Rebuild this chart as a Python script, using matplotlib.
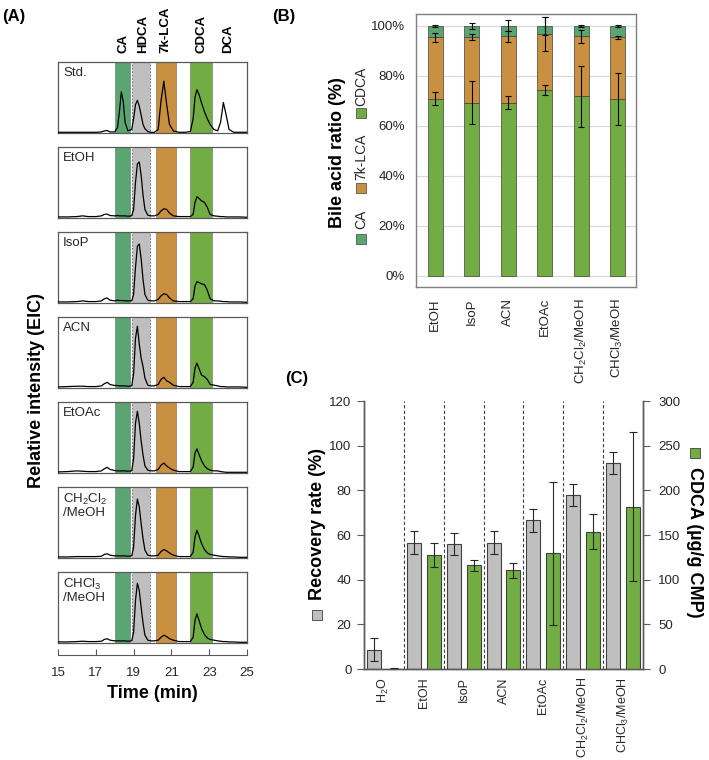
import matplotlib
matplotlib.use("Agg")
import matplotlib.pyplot as plt
from matplotlib.patches import Rectangle
import matplotlib.transforms as mtransforms

plt.rcParams['font.family'] = ['Liberation Sans', 'DejaVu Sans']
plt.rcParams['mathtext.fontset'] = 'custom'
plt.rcParams['mathtext.rm'] = 'Liberation Sans'
plt.rcParams['mathtext.it'] = 'Liberation Sans:italic'
plt.rcParams['mathtext.bf'] = 'Liberation Sans:bold'

# ---------------- data: panel A (chromatograms) ----------------
samples_A = ["Std.", "EtOH", "IsoP", "ACN", "EtOAc", "CH$_2$Cl$_2$\n/MeOH", "CHCl$_3$\n/MeOH"]
time_min = [15.0, 15.5, 16.0, 16.3, 16.6, 17.0, 17.3, 17.45, 17.6, 17.75, 18.0, 18.15, 18.25, 18.35,
            18.45, 18.55, 18.7, 18.9, 19.0, 19.1, 19.2, 19.3, 19.4, 19.5, 19.6, 19.75, 19.9, 20.1,
            20.3, 20.45, 20.6, 20.75, 20.9, 21.1, 21.4, 21.7, 22.0, 22.15, 22.25, 22.35, 22.45, 22.6,
            22.75, 22.9, 23.05, 23.25, 23.45, 23.6, 23.75, 23.9, 24.05, 24.3, 24.6, 25.0]
eic_std = [0.01, 0.01, 0.01, 0.01, 0.01, 0.01, 0.015, 0.03, 0.035, 0.015, 0.015, 0.08, 0.3, 0.58,
           0.45, 0.15, 0.03, 0.05, 0.2, 0.4, 0.46, 0.38, 0.25, 0.12, 0.06, 0.02, 0.01, 0.01,
           0.05, 0.45, 0.73, 0.4, 0.12, 0.03, 0.01, 0.01, 0.02, 0.2, 0.5, 0.61, 0.55, 0.42,
           0.3, 0.2, 0.12, 0.05, 0.03, 0.15, 0.43, 0.25, 0.05, 0.01, 0.01, 0.01]
eic_etoh = [0.015, 0.015, 0.02, 0.03, 0.02, 0.02, 0.03, 0.05, 0.055, 0.035, 0.03, 0.035, 0.03, 0.03,
            0.03, 0.03, 0.025, 0.03, 0.12, 0.5, 0.76, 0.79, 0.6, 0.32, 0.12, 0.04, 0.03, 0.03,
            0.05, 0.1, 0.13, 0.12, 0.07, 0.03, 0.02, 0.02, 0.02, 0.05, 0.22, 0.3, 0.28, 0.24,
            0.22, 0.15, 0.05, 0.03, 0.025, 0.02, 0.02, 0.015, 0.015, 0.015, 0.015, 0.01]
eic_isop = [0.015, 0.015, 0.02, 0.03, 0.02, 0.02, 0.03, 0.06, 0.07, 0.04, 0.03, 0.04, 0.035, 0.035,
            0.035, 0.03, 0.03, 0.03, 0.12, 0.5, 0.8, 0.83, 0.62, 0.33, 0.12, 0.04, 0.03, 0.03,
            0.05, 0.1, 0.13, 0.12, 0.07, 0.03, 0.02, 0.02, 0.02, 0.06, 0.24, 0.3, 0.29, 0.27,
            0.26, 0.18, 0.06, 0.03, 0.03, 0.025, 0.02, 0.02, 0.015, 0.015, 0.015, 0.01]
eic_acn = [0.015, 0.02, 0.025, 0.025, 0.02, 0.02, 0.03, 0.06, 0.08, 0.05, 0.035, 0.035, 0.03, 0.03,
           0.03, 0.03, 0.025, 0.03, 0.2, 0.7, 0.87, 0.62, 0.42, 0.3, 0.14, 0.04, 0.03, 0.03,
           0.05, 0.12, 0.15, 0.1, 0.08, 0.04, 0.02, 0.02, 0.02, 0.08, 0.28, 0.35, 0.28, 0.18,
           0.16, 0.12, 0.05, 0.04, 0.03, 0.02, 0.02, 0.015, 0.015, 0.015, 0.015, 0.01]
eic_etoac = [0.015, 0.02, 0.03, 0.025, 0.02, 0.02, 0.03, 0.06, 0.08, 0.05, 0.035, 0.03, 0.03, 0.03,
             0.03, 0.03, 0.025, 0.03, 0.2, 0.7, 0.87, 0.7, 0.45, 0.25, 0.1, 0.04, 0.03, 0.03,
             0.05, 0.11, 0.14, 0.1, 0.07, 0.04, 0.02, 0.02, 0.02, 0.08, 0.28, 0.34, 0.27, 0.17,
             0.1, 0.06, 0.04, 0.03, 0.03, 0.02, 0.015, 0.01, 0.01, 0.01, 0.01, 0.01]
eic_dcm = [0.015, 0.015, 0.02, 0.02, 0.02, 0.02, 0.025, 0.05, 0.06, 0.04, 0.03, 0.03, 0.03, 0.03,
           0.03, 0.03, 0.025, 0.03, 0.15, 0.6, 0.83, 0.72, 0.48, 0.27, 0.11, 0.04, 0.03, 0.03,
           0.04, 0.09, 0.12, 0.1, 0.07, 0.04, 0.02, 0.02, 0.02, 0.08, 0.3, 0.39, 0.32, 0.2,
           0.12, 0.07, 0.05, 0.04, 0.03, 0.025, 0.02, 0.02, 0.015, 0.015, 0.01, 0.01]
eic_chcl3 = [0.015, 0.015, 0.02, 0.025, 0.02, 0.02, 0.025, 0.05, 0.06, 0.04, 0.03, 0.03, 0.03, 0.03,
             0.03, 0.03, 0.025, 0.03, 0.15, 0.6, 0.84, 0.74, 0.5, 0.28, 0.11, 0.04, 0.03, 0.03,
             0.04, 0.08, 0.11, 0.09, 0.06, 0.04, 0.02, 0.02, 0.02, 0.08, 0.32, 0.41, 0.33, 0.2,
             0.12, 0.07, 0.05, 0.04, 0.03, 0.025, 0.02, 0.02, 0.015, 0.015, 0.01, 0.01]
traces_A = [eic_std, eic_etoh, eic_isop, eic_acn, eic_etoac, eic_dcm, eic_chcl3]

band_names = ["CA", "HDCA", "7k-LCA", "CDCA"]
band_start = [18.03, 18.92, 20.19, 21.98]
band_end = [18.79, 19.87, 21.23, 23.13]
peak_label_names = ["CA", "HDCA", "7k-LCA", "CDCA", "DCA"]
peak_label_times = [18.45, 19.5, 20.7, 22.6, 24.0]
time_ticks = [15, 17, 19, 21, 23, 25]

# ---------------- data: panel B (stacked ratio) ----------------
solvents_B = ["EtOH", "IsoP", "ACN", "EtOAc", "CH$_2$Cl$_2$/MeOH", "CHCl$_3$/MeOH"]
cdca_pct = [70.8, 69.3, 69.3, 74.5, 71.8, 70.8]
k7lca_pct = [24.7, 26.2, 26.5, 22.4, 24.0, 24.7]
ca_pct = [4.5, 4.5, 4.2, 3.1, 4.2, 4.5]
cdca_err = [2.6, 8.7, 2.6, 2.0, 12.2, 10.3]
k7lca_err = [1.8, 1.2, 2.3, 6.8, 2.7, 0.6]
ca_err = [0.5, 1.3, 2.2, 3.5, 0.4, 0.5]

# ---------------- data: panel C (recovery / CDCA) ----------------
solvents_C = ["H$_2$O", "EtOH", "IsoP", "ACN", "EtOAc", "CH$_2$Cl$_2$/MeOH", "CHCl$_3$/MeOH"]
recovery = [8.7, 56.6, 55.9, 56.6, 66.5, 78.0, 92.1]
recovery_err = [5.0, 5.0, 5.0, 5.0, 5.2, 5.0, 5.0]
cdca_ug = [0.4, 127.5, 115.9, 110.3, 129.3, 153.9, 181.9]
cdca_ug_err = [1.2, 13.6, 6.5, 8.4, 80.0, 19.7, 83.3]

# ---------------- styling ----------------
C_CA = "#5ba572"
C_7K = "#c8903f"
C_CDCA = "#72ad44"
C_GRAY = "#bfbfbf"
C_FRAME = "#595959"
C_TXT = "#262626"

W, H = 709, 760
fig = plt.figure(figsize=(W / 100, H / 100), dpi=100)


def rect(x0, y0, x1, y1):
    return [x0 / W, 1 - y1 / H, (x1 - x0) / W, (y1 - y0) / H]


def fx(x):
    return x / W


def fy(y):
    return 1 - y / H


# ================= Panel A =================
ax_left, ax_right = 58, 247
tops = [62, 147, 232, 317, 402, 487, 572]
ph = 71
axesA = []
for i, (name, tr) in enumerate(zip(samples_A, traces_A)):
    ax = fig.add_axes(rect(ax_left, tops[i], ax_right, tops[i] + ph))
    axesA.append(ax)
    cols = [C_CA, C_GRAY, C_7K, C_CDCA]
    for j, (s, e) in enumerate(zip(band_start, band_end)):
        if band_names[j] == "HDCA":
            ax.add_patch(Rectangle((s, 0), e - s, 1, facecolor=cols[j], edgecolor="#7f7f7f",
                                   lw=0.7, ls=(0, (2, 1.5)), zorder=1))
        else:
            ax.add_patch(Rectangle((s, 0), e - s, 1, facecolor=cols[j], edgecolor="#6b6b6b",
                                   lw=0.4, zorder=1))
    ax.plot(time_min, tr, color="black", lw=0.9, zorder=3)
    ax.set_xlim(15, 25)
    ax.set_ylim(0, 1)
    ax.set_xticks([])
    ax.set_yticks([])
    for sp in ax.spines.values():
        sp.set_color(C_FRAME)
        sp.set_linewidth(0.9)
    ax.text(0.027, 0.93, name, transform=ax.transAxes, ha="left", va="top",
            fontsize=9.5, color=C_TXT, linespacing=1.0)

# peak labels above top panel
trans = mtransforms.blended_transform_factory(axesA[0].transData, axesA[0].transAxes)
for nm, t in zip(peak_label_names, peak_label_times):
    axesA[0].text(t, 1 + 9 / ph, nm, transform=trans, rotation=90, ha="center", va="bottom",
                  fontsize=9.5, fontweight="bold", color="black", clip_on=False)

# time axis
axT = fig.add_axes(rect(ax_left, 650, ax_right, 655))
axT.set_xlim(15, 25)
axT.set_ylim(0, 1)
axT.set_yticks([])
axT.set_xticks(time_ticks)
axT.set_xticklabels([str(t) for t in time_ticks])
for s in ["top", "left", "right"]:
    axT.spines[s].set_visible(False)
axT.spines["bottom"].set_color(C_FRAME)
axT.patch.set_alpha(0)
axT.tick_params(axis="x", direction="in", length=4, color=C_FRAME, labelsize=9.5,
                labelcolor=C_TXT, pad=9)
fig.text(fx(152), fy(693), "Time (min)", ha="center", va="center", fontsize=13,
         fontweight="bold")
fig.text(fx(37), fy(391), "Relative intensity (EIC)", ha="center", va="center", fontsize=13,
         fontweight="bold", rotation=90)
fig.text(fx(2), fy(16), "(A)", ha="left", va="center", fontsize=12, fontweight="bold")

# ================= Panel B =================
axB = fig.add_axes(rect(416, 14, 636, 287))
xB = list(range(len(solvents_B)))
bw = 0.41
axB.bar(xB, cdca_pct, bw, color=C_CDCA, edgecolor="#3f3f3f", lw=0.5, zorder=2)
axB.bar(xB, k7lca_pct, bw, bottom=cdca_pct, color=C_7K, edgecolor="#3f3f3f", lw=0.5, zorder=2)
bot2 = [a + b for a, b in zip(cdca_pct, k7lca_pct)]
axB.bar(xB, ca_pct, bw, bottom=bot2, color=C_CA, edgecolor="#3f3f3f", lw=0.5, zorder=2)
top3 = [a + b for a, b in zip(bot2, ca_pct)]
ekw = dict(fmt="none", ecolor="black", elinewidth=0.8, capsize=2, capthick=0.8, zorder=4)
axB.errorbar(xB, cdca_pct, yerr=cdca_err, **ekw)
axB.errorbar(xB, bot2, yerr=k7lca_err, **ekw)
axB.errorbar(xB, top3, yerr=ca_err, **ekw)
axB.set_xlim(-0.53, 5.5)
axB.set_ylim(-4.6, 104.8)
axB.set_yticks([0, 20, 40, 60, 80, 100])
axB.set_yticklabels([f"{v}%" for v in [0, 20, 40, 60, 80, 100]])
axB.grid(axis="y", color="#d9d9d9", lw=0.9, zorder=0)
axB.set_axisbelow(True)
axB.set_xticks(xB)
axB.set_xticklabels(solvents_B, rotation=90, va="top", ha="center")
axB.tick_params(axis="both", length=0, labelsize=9.5, labelcolor=C_TXT)
axB.tick_params(axis="x", pad=8)
axB.tick_params(axis="y", pad=8)
for sp in axB.spines.values():
    sp.set_color("#7f7f7f")
    sp.set_linewidth(1.0)
fig.text(fx(338), fy(153), "Bile acid ratio (%)", ha="center", va="center", fontsize=13,
         fontweight="bold", rotation=90)
fig.text(fx(272), fy(16), "(B)", ha="left", va="center", fontsize=12, fontweight="bold")

# rotated legend of panel B
leg_items = [("CA", C_CA, 239, 229), ("7k-LCA", C_7K, 188, 180), ("CDCA", C_CDCA, 113, 106)]
for lab, col, sq_y, txt_y in leg_items:
    fig.add_artist(Rectangle((fx(356), fy(sq_y + 5)), 10 / W, 10 / H, transform=fig.transFigure,
                             facecolor=col, edgecolor="#3f3f3f", lw=0.5))
    fig.text(fx(361), fy(txt_y), lab, rotation=90, ha="center", va="bottom", fontsize=10,
             color=C_TXT)

# ================= Panel C =================
axC = fig.add_axes(rect(364, 401, 643, 669))
axC2 = axC.twinx()
xC = list(range(len(solvents_C)))
cw = 0.35
axC.bar([x - 0.25 for x in xC], recovery, cw, color=C_GRAY, edgecolor="#404040", lw=0.8,
        zorder=2)
axC.errorbar([x - 0.25 for x in xC], recovery, yerr=recovery_err, fmt="none", ecolor="#262626",
             elinewidth=0.8, capsize=3, capthick=0.8, zorder=4)
axC2.bar([x + 0.25 for x in xC], cdca_ug, cw, color=C_CDCA, edgecolor="#404040", lw=0.8,
         zorder=2)
axC2.errorbar([x + 0.25 for x in xC], cdca_ug, yerr=cdca_ug_err, fmt="none", ecolor="#262626",
              elinewidth=0.8, capsize=3, capthick=0.8, zorder=4)
for i in range(len(xC) - 1):
    axC.axvline(i + 0.5, color="#404040", lw=0.8, ls=(0, (3, 2)), zorder=1)
axC.set_xlim(-0.5, 6.5)
axC.set_ylim(0, 120)
axC2.set_ylim(0, 300)
axC.set_yticks([0, 20, 40, 60, 80, 100, 120])
axC2.set_yticks([0, 50, 100, 150, 200, 250, 300])
axC.set_xticks(xC)
axC.set_xticklabels(solvents_C, rotation=90, va="top", ha="center")
axC.tick_params(axis="x", length=0, labelsize=9, labelcolor=C_TXT, pad=6)
axC.tick_params(axis="y", direction="out", length=5, color="#595959", labelsize=9.5,
                labelcolor=C_TXT, pad=4)
axC2.tick_params(axis="y", direction="out", length=5, color="#595959", labelsize=9.5,
                 labelcolor=C_TXT, pad=6)
for a in (axC, axC2):
    a.spines["top"].set_visible(False)
    for s in ["left", "right", "bottom"]:
        a.spines[s].set_color("#595959")
        a.spines[s].set_linewidth(1.0)
fig.text(fx(317), fy(600), "Recovery rate (%)", ha="center", va="bottom", fontsize=13,
         fontweight="bold", rotation=90)
fig.add_artist(Rectangle((fx(312), fy(620)), 10 / W, 10 / H, transform=fig.transFigure,
                         facecolor=C_GRAY, edgecolor="#404040", lw=0.6))
fig.text(fx(695), fy(467), "CDCA (µg/g CMP)", ha="center", va="top", fontsize=13,
         fontweight="bold", rotation=270)
fig.add_artist(Rectangle((fx(690), fy(458)), 10 / W, 10 / H, transform=fig.transFigure,
                         facecolor=C_CDCA, edgecolor="#404040", lw=0.6))
fig.text(fx(285), fy(378), "(C)", ha="left", va="center", fontsize=12, fontweight="bold")

fig.savefig("out.png", dpi=100)
